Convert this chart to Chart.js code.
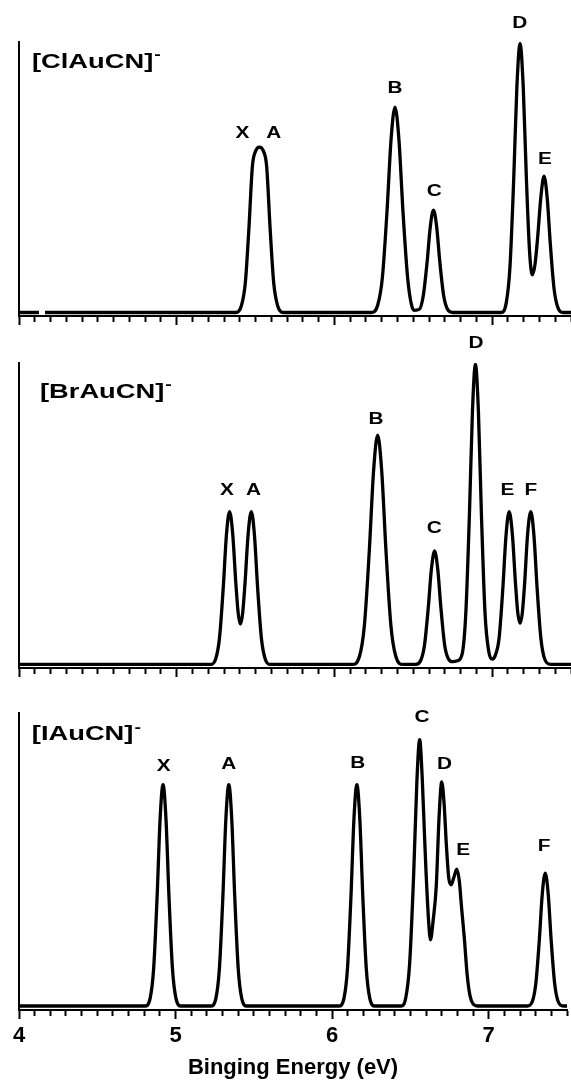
<!DOCTYPE html>
<html>
<head>
<meta charset="utf-8">
<title>Photoelectron spectra of XAuCN-</title>
<script src="https://cdn.jsdelivr.net/npm/chart.js@4.4.0/dist/chart.umd.min.js"></script>
<style>
  body { margin: 0; background: #fff; }
  canvas { position: absolute; left: 0; }
</style>
</head>
<body>
<canvas id="clChart" width="571" height="330" style="top:0px"></canvas>
<canvas id="brChart" width="571" height="352" style="top:330px"></canvas>
<canvas id="iChart" width="571" height="405" style="top:682px"></canvas>
<script>
// x axis
const energyTickLabels = [4, 5, 6, 7];
const axisTitle = 'Binging Energy (eV)';

// [ClAuCN]- spectrum (relative intensity, D = 1)
const clEnergy = [4.00, 4.127, 4.145, 4.165, 5.375, 5.41, 5.435, 5.4575, 5.48, 5.50, 5.525, 5.55, 5.57, 5.5925, 5.615, 5.64, 5.675,
  6.234, 6.274, 6.304, 6.334, 6.359, 6.384, 6.409, 6.434, 6.464, 6.488, 6.505,
  6.54, 6.564, 6.588, 6.608, 6.628, 6.648, 6.668, 6.692, 6.716, 6.75,
  7.057, 7.089, 7.113, 7.137, 7.157, 7.177, 7.197, 7.217, 7.238, 7.255, 7.272, 7.290, 7.309, 7.329, 7.349, 7.369, 7.393, 7.417, 7.45, 7.5];
const clIntensity = [0, 0, null, 0, 0, 0.025, 0.11, 0.31, 0.545, 0.60, 0.615, 0.60, 0.545, 0.31, 0.11, 0.025, 0,
  0, 0.027, 0.13, 0.382, 0.643, 0.764, 0.643, 0.382, 0.13, 0.03, 0.008,
  0.013, 0.065, 0.19, 0.32, 0.381, 0.32, 0.19, 0.065, 0.013, 0,
  0, 0.035, 0.17, 0.5, 0.841, 1.0, 0.841, 0.5, 0.22, 0.14, 0.18, 0.29, 0.43, 0.507, 0.426, 0.254, 0.086, 0.018, 0, 0];
const clPeakNames = ['X', 'A', 'B', 'C', 'D', 'E'];
const clPeakX = [5.416, 5.616, 6.384, 6.633, 7.175, 7.335];
const clPeakY = [0.664, 0.664, 0.833, 0.449, 1.075, 0.570];

// [BrAuCN]- spectrum
const brEnergy = [4.00, 5.215, 5.247, 5.271, 5.295, 5.315, 5.335, 5.355, 5.375, 5.39, 5.404, 5.418, 5.433, 5.453, 5.473, 5.493, 5.513, 5.537, 5.561, 5.593,
  6.114, 6.159, 6.19, 6.2215, 6.248, 6.274, 6.30, 6.3265, 6.358, 6.389, 6.434,
  6.515, 6.547, 6.571, 6.595, 6.615, 6.635, 6.655, 6.675, 6.699, 6.723, 6.749,
  6.78, 6.81, 6.833, 6.856, 6.875, 6.894, 6.913, 6.932, 6.955, 6.978, 7.002,
  7.02, 7.044, 7.068, 7.088, 7.108, 7.128, 7.148, 7.163, 7.177, 7.191, 7.206, 7.225, 7.245, 7.265, 7.285, 7.309, 7.333, 7.37, 7.5];
const brIntensity = [0, 0, 0.018, 0.087, 0.255, 0.43, 0.509, 0.435, 0.27, 0.17, 0.134, 0.17, 0.27, 0.435, 0.509, 0.43, 0.255, 0.087, 0.018, 0,
  0, 0.027, 0.13, 0.382, 0.643, 0.764, 0.643, 0.382, 0.13, 0.027, 0,
  0, 0.013, 0.064, 0.189, 0.318, 0.378, 0.318, 0.189, 0.064, 0.018, 0.009,
  0.012, 0.035, 0.17, 0.5, 0.841, 1.0, 0.841, 0.5, 0.17, 0.045, 0.018,
  0.03, 0.087, 0.255, 0.43, 0.509, 0.435, 0.27, 0.17, 0.137, 0.17, 0.27, 0.435, 0.509, 0.43, 0.255, 0.087, 0.018, 0, 0];
const brPeakNames = ['X', 'A', 'B', 'C', 'D', 'E', 'F'];
const brPeakX = [5.318, 5.487, 6.264, 6.633, 6.897, 7.097, 7.245];
const brPeakY = [0.58, 0.58, 0.814, 0.454, 1.07, 0.58, 0.58];

// [IAuCN]- spectrum
const iEnergy = [4.00, 4.805, 4.8375, 4.86, 4.8825, 4.901, 4.92, 4.939, 4.9575, 4.98, 5.0025, 5.035,
  5.225, 5.2575, 5.28, 5.3025, 5.321, 5.34, 5.359, 5.3775, 5.40, 5.4225, 5.455,
  6.043, 6.0755, 6.098, 6.1205, 6.139, 6.158, 6.177, 6.1955, 6.218, 6.2405, 6.273,
  6.44, 6.47, 6.495, 6.521, 6.541, 6.559, 6.575, 6.59, 6.60, 6.615, 6.628, 6.645, 6.665, 6.683, 6.70, 6.715, 6.73, 6.745, 6.759, 6.776, 6.796, 6.812, 6.828, 6.844, 6.862, 6.88, 6.90, 6.93,
  7.246, 7.2785, 7.301, 7.3235, 7.342, 7.361, 7.38, 7.3985, 7.421, 7.4435, 7.476, 7.5];
const iIntensity = [0, 0, 0.029, 0.141, 0.416, 0.699, 0.831, 0.699, 0.416, 0.141, 0.029, 0,
  0, 0.029, 0.141, 0.416, 0.699, 0.831, 0.699, 0.416, 0.141, 0.029, 0,
  0, 0.029, 0.141, 0.416, 0.699, 0.831, 0.699, 0.416, 0.141, 0.029, 0,
  0, 0.03, 0.16, 0.5, 0.84, 1.0, 0.86, 0.64, 0.5, 0.33, 0.248, 0.32, 0.45, 0.71, 0.841, 0.76, 0.6, 0.48, 0.455, 0.48, 0.514, 0.47, 0.36, 0.257, 0.12, 0.04, 0.008, 0,
  0, 0.017, 0.085, 0.25, 0.42, 0.499, 0.42, 0.25, 0.085, 0.017, 0, 0];
const iPeakNames = ['X', 'A', 'B', 'C', 'D', 'E', 'F'];
const iPeakX = [4.924, 5.340, 6.163, 6.574, 6.717, 6.837, 7.354];
const iPeakY = [0.90, 0.906, 0.91, 1.082, 0.906, 0.584, 0.599];

const FONT = '"Liberation Sans", Arial, sans-serif';
const STRETCH = 1.3;

function isMajor(v) {
    return energyTickLabels.some(t => Math.abs(t - v) < 1e-6);
}

// draws the species name and the peak letters, wide bold like the original figure
const peakLabelPlugin = {
    id: 'peakLabels',
    afterDraw(chart, args, opts) {
        const ctx = chart.ctx;
        const xs = chart.scales.x, ys = chart.scales.y;
        ctx.save();
        ctx.fillStyle = '#000';
        ctx.textBaseline = 'middle';

        // species name with superscript minus
        ctx.font = 'bold 21px ' + FONT;
        ctx.textAlign = 'left';
        const nx = xs.getPixelForValue(opts.nameX), ny = ys.getPixelForValue(opts.nameY);
        const w = ctx.measureText(opts.name).width * STRETCH;
        ctx.save();
        ctx.translate(nx, ny);
        ctx.scale(STRETCH, 1);
        ctx.fillText(opts.name, 0, 0);
        ctx.restore();
        ctx.font = 'bold 15px ' + FONT;
        ctx.save();
        ctx.translate(nx + w + 1, ny - 7);
        ctx.scale(STRETCH, 1);
        ctx.fillText('-', 0, 0);
        ctx.restore();

        // peak letters
        ctx.font = 'bold 16px ' + FONT;
        ctx.textAlign = 'center';
        opts.names.forEach((n, i) => {
            ctx.save();
            ctx.translate(xs.getPixelForValue(opts.xs[i]), ys.getPixelForValue(opts.ys[i]));
            ctx.scale(STRETCH, 1);
            ctx.fillText(n, 0, 0);
            ctx.restore();
        });
        ctx.restore();
    }
};

function makeSpectrum(canvasId, energies, intensities, panel) {
    const ctx = document.getElementById(canvasId).getContext('2d');
    return new Chart(ctx, {
        type: 'line',
        data: {
            datasets: [{
                data: energies.map((e, i) => ({ x: e, y: intensities[i] })),
                borderColor: '#000',
                borderWidth: 3.3,
                pointRadius: 0,
                cubicInterpolationMode: 'monotone',
                fill: false
            }]
        },
        options: {
            responsive: false,
            animation: false,
            layout: { padding: { top: panel.padTop, left: 0, right: 0, bottom: 0 } },
            plugins: {
                legend: { display: false },
                tooltip: { enabled: false },
                peakLabels: panel.labels
            },
            scales: {
                x: {
                    type: 'linear',
                    min: 4,
                    max: 7.5,
                    afterFit: s => { s.height = panel.axisHeight; },
                    border: { display: true, color: '#000', width: 2 },
                    grid: {
                        drawOnChartArea: false,
                        drawTicks: true,
                        tickLength: 9,
                        tickColor: '#000',
                        tickWidth: 2,
                        // minor ticks shorter than the whole-eV ones
                        tickBorderDash: c => (c.tick && isMajor(c.tick.value)) ? [] : [5, 20]
                    },
                    ticks: {
                        display: panel.showTicks,
                        stepSize: 0.1,
                        autoSkip: false,
                        maxRotation: 0,
                        padding: 4,
                        color: '#000',
                        font: { family: FONT, size: 22, weight: 'bold' },
                        callback: v => isMajor(v) ? String(Math.round(v)) : ''
                    },
                    title: {
                        display: panel.showTicks,
                        text: axisTitle,
                        color: '#000',
                        font: { family: FONT, size: 22, weight: 'bold' },
                        padding: { top: 4, bottom: 6 }
                    }
                },
                y: {
                    min: panel.yMin,
                    max: panel.yMax,
                    afterFit: s => { s.width = 19; },
                    border: { display: true, color: '#000', width: 2 },
                    grid: { display: false },
                    ticks: { display: false }
                }
            }
        },
        plugins: [peakLabelPlugin]
    });
}

makeSpectrum('clChart', clEnergy, clIntensity, {
    padTop: 42, axisHeight: 14, yMin: -0.013, yMax: 1.006, showTicks: false,
    labels: { name: '[ClAuCN]', nameX: 4.082, nameY: 0.931, names: clPeakNames, xs: clPeakX, ys: clPeakY }
});
makeSpectrum('brChart', brEnergy, brIntensity, {
    padTop: 33, axisHeight: 14, yMin: -0.012, yMax: 1.004, showTicks: false,
    labels: { name: '[BrAuCN]', nameX: 4.133, nameY: 0.908, names: brPeakNames, xs: brPeakX, ys: brPeakY }
});
makeSpectrum('iChart', iEnergy, iIntensity, {
    padTop: 31, axisHeight: 77, yMin: -0.015, yMax: 1.10, showTicks: true,
    labels: { name: '[IAuCN]', nameX: 4.082, nameY: 1.019, names: iPeakNames, xs: iPeakX, ys: iPeakY }
});
</script>
</body>
</html>
